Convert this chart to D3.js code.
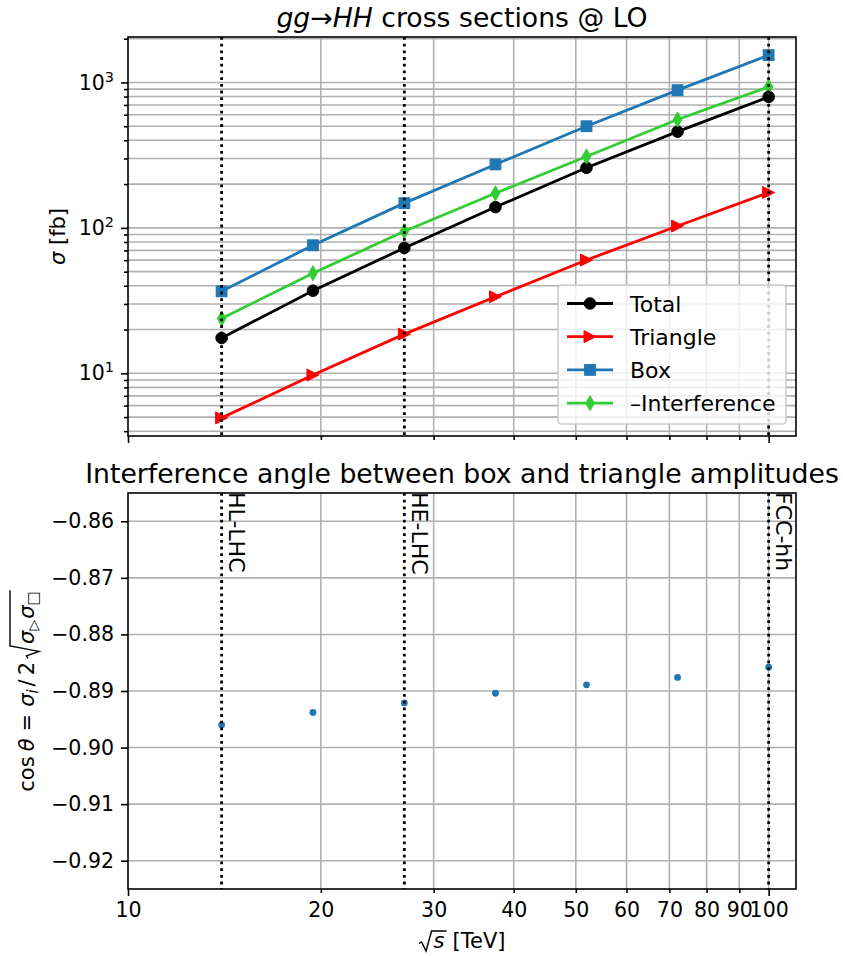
<!DOCTYPE html>
<html>
<head>
<meta charset="utf-8">
<script src="https://cdn.jsdelivr.net/npm/d3@7"></script>
<style>
  body { margin: 0; background: #fff; }
  svg { display: block; }
  text { font-family: "DejaVu Sans", sans-serif; fill: #000; }
</style>
</head>
<body>
<svg id="chart" width="843" height="956"></svg>
<script>
// Collider energies sqrt(s) in TeV
const energies = [14, 19.44, 27, 37.46, 51.96, 72.08, 100];

// LO gg -> HH cross sections in fb
const sigmaTotal        = [17.5, 37.0, 72.8, 139, 259, 459, 796];
const sigmaTriangle     = [4.94, 9.73, 18.6, 33.6, 60.1, 103, 175];
const sigmaBox          = [36.6, 76, 148, 273, 500, 885, 1541];
const sigmaInterference = [23.8, 48.8, 94.9, 173, 310, 556, 934];

// cos(theta) = sigma_i / 2 sqrt(sigma_tri sigma_box)
const cosTheta = [-0.8960, -0.8938, -0.8921, -0.8904, -0.8889, -0.8876, -0.8858];

// Reference colliders
const colliderNames    = ["HL-LHC", "HE-LHC", "FCC-hh"];
const colliderEnergies = [14, 27, 100];

// Series presentation
const seriesNames   = ["Total", "Triangle", "Box", "\u2013Interference"];
const seriesColors  = ["#000000", "#ff0000", "#1f77b4", "#32cd32"];
const seriesMarkers = ["circle", "triangleRight", "square", "thinDiamond"];
const seriesValues  = [sigmaTotal, sigmaTriangle, sigmaBox, sigmaInterference];

// Tick values
const xTicksMajor = [10, 100];
const xTicksMinor = [20, 30, 40, 50, 60, 70, 80, 90];
const sigmaTicks  = [10, 100, 1000];
const cosTicks    = [-0.92, -0.91, -0.90, -0.89, -0.88, -0.87, -0.86];
const cosDomain   = [-0.925, -0.855];

// ---------- layout ----------
const X0 = 128, X1 = 796;
const TOP = { y0: 37, y1: 436 };
const BOT = { y0: 493, y1: 889 };
const GRID = "#b0b0b0";
const FS_TICK = 20.5, FS_LABEL = 21, FS_LEG = 22, FS_TITLE = 26.7;

const svg = d3.select("#chart");

// log x with a 5% right margin in log space
const logE = energies.map(Math.log10);
const xPad = 0.05 * (d3.max(logE) - d3.min(logE));
const x = d3.scaleLog().domain([10, Math.pow(10, d3.max(logE) + xPad)]).range([X0, X1]);

// log y for cross sections with 5% margins in log space
const allSigma = [].concat(...seriesValues);
const lLo = Math.log10(d3.min(allSigma)), lHi = Math.log10(d3.max(allSigma));
const yPad = 0.05 * (lHi - lLo);
const yT = d3.scaleLog().domain([Math.pow(10, lLo - yPad), Math.pow(10, lHi + yPad)]).range([TOP.y1, TOP.y0]);

const yB = d3.scaleLinear().domain(cosDomain).range([BOT.y1, BOT.y0]);

// minor log ticks inside the y domain
const sigmaMinor = [];
for (let dec = 1; dec <= 1000; dec *= 10)
  for (let k = 1; k <= 9; k++) {
    const v = k * dec;
    if (v >= yT.domain()[0] && v <= yT.domain()[1] && !sigmaTicks.includes(v)) sigmaMinor.push(v);
  }
const xGridVals = xTicksMinor.concat([100]);

// ---------- grids ----------
const gGrid = svg.append("g").attr("stroke", GRID).attr("stroke-width", 1.6);
gGrid.selectAll("line.hT").data(sigmaTicks.concat(sigmaMinor)).join("line").attr("class", "hT")
  .attr("x1", X0).attr("x2", X1).attr("y1", d => yT(d)).attr("y2", d => yT(d));
gGrid.selectAll("line.vT").data(xGridVals).join("line").attr("class", "vT")
  .attr("x1", d => x(d)).attr("x2", d => x(d)).attr("y1", TOP.y0).attr("y2", TOP.y1);
gGrid.selectAll("line.hB").data(cosTicks).join("line").attr("class", "hB")
  .attr("x1", X0).attr("x2", X1).attr("y1", d => yB(d)).attr("y2", d => yB(d));
gGrid.selectAll("line.vB").data(xGridVals).join("line").attr("class", "vB")
  .attr("x1", d => x(d)).attr("x2", d => x(d)).attr("y1", BOT.y0).attr("y2", BOT.y1);

// ---------- markers ----------
function marker(g, type, cx, cy, color) {
  if (type === "circle") {
    g.append("circle").attr("cx", cx).attr("cy", cy).attr("r", 5.8).attr("fill", color)
      .attr("stroke", color).attr("stroke-width", 1);
  } else if (type === "triangleRight") {
    g.append("path").attr("d", `M${cx + 6},${cy} L${cx - 6},${cy - 6} L${cx - 6},${cy + 6} Z`)
      .attr("fill", color).attr("stroke", color).attr("stroke-width", 1);
  } else if (type === "square") {
    g.append("rect").attr("x", cx - 5.3).attr("y", cy - 5.3).attr("width", 10.6).attr("height", 10.6)
      .attr("fill", color).attr("stroke", color).attr("stroke-width", 1.2);
  } else if (type === "thinDiamond") {
    g.append("path").attr("d", `M${cx},${cy - 7.5} L${cx + 4.3},${cy} L${cx},${cy + 7.5} L${cx - 4.3},${cy} Z`)
      .attr("fill", color).attr("stroke", color).attr("stroke-width", 1);
  }
}

// ---------- top panel series ----------
const gData = svg.append("g");
const line = d3.line().x(d => x(d[0])).y(d => yT(d[1]));
seriesValues.forEach((vals, i) => {
  const pts = energies.map((e, j) => [e, vals[j]]);
  gData.append("path").attr("d", line(pts)).attr("fill", "none")
    .attr("stroke", seriesColors[i]).attr("stroke-width", 2.8).attr("stroke-linejoin", "round");
});
seriesValues.forEach((vals, i) => {
  energies.forEach((e, j) => marker(gData, seriesMarkers[i], x(e), yT(vals[j]), seriesColors[i]));
});

// ---------- bottom panel points ----------
svg.append("g").selectAll("circle").data(energies.map((e, j) => [e, cosTheta[j]])).join("circle")
  .attr("cx", d => x(d[0])).attr("cy", d => yB(d[1])).attr("r", 3.4).attr("fill", "#1f77b4");

// ---------- collider lines ----------
const gCol = svg.append("g").attr("stroke", "#000").attr("stroke-width", 2.8)
  .attr("stroke-dasharray", "2.8 3.9");
colliderEnergies.forEach(e => {
  gCol.append("line").attr("x1", x(e)).attr("x2", x(e)).attr("y1", TOP.y0).attr("y2", TOP.y1);
  gCol.append("line").attr("x1", x(e)).attr("x2", x(e)).attr("y1", BOT.y0).attr("y2", BOT.y1);
});
colliderEnergies.forEach((e, i) => {
  svg.append("text").attr("transform", `translate(${x(e) + 7.5},${BOT.y0 - 1}) rotate(90)`)
    .attr("font-size", FS_LEG).attr("text-anchor", "start")
    .text(colliderNames[i]);
});

// ---------- axes ----------
function styleAxis(g) {
  g.select(".domain").remove();
  g.selectAll(".tick line").attr("stroke", "#000").attr("stroke-width", 1.6);
  g.selectAll(".tick text").attr("font-size", FS_TICK).attr("font-family", "DejaVu Sans").attr("fill", "#000");
  g.attr("font-family", null).attr("font-size", null);
}

// top panel x ticks (no labels)
svg.append("g").attr("transform", `translate(0,${TOP.y1})`)
  .call(d3.axisBottom(x).tickValues(xTicksMajor).tickSize(7).tickFormat("")).call(styleAxis);
svg.append("g").attr("transform", `translate(0,${TOP.y1})`)
  .call(d3.axisBottom(x).tickValues(xTicksMinor).tickSize(4).tickFormat("")).call(styleAxis);

// bottom panel x ticks with labels
svg.append("g").attr("transform", `translate(0,${BOT.y1})`)
  .call(d3.axisBottom(x).tickValues(xTicksMajor).tickSize(7).tickPadding(6).tickFormat(d3.format("d"))).call(styleAxis);
svg.append("g").attr("transform", `translate(0,${BOT.y1})`)
  .call(d3.axisBottom(x).tickValues(xTicksMinor).tickSize(4).tickPadding(9).tickFormat(d3.format("d"))).call(styleAxis);

// top panel y ticks, labels as powers of ten
const gYT = svg.append("g").attr("transform", `translate(${X0},0)`)
  .call(d3.axisLeft(yT).tickValues(sigmaTicks).tickSize(7).tickPadding(7).tickFormat(() => "")).call(styleAxis);
gYT.selectAll(".tick text").each(function (d) {
  const t = d3.select(this);
  t.append("tspan").text("10");
  t.append("tspan").attr("font-size", 14.5).attr("dy", -8).text(Math.round(Math.log10(d)));
});
svg.append("g").attr("transform", `translate(${X0},0)`)
  .call(d3.axisLeft(yT).tickValues(sigmaMinor).tickSize(4).tickFormat("")).call(styleAxis);

// bottom panel y ticks
svg.append("g").attr("transform", `translate(${X0},0)`)
  .call(d3.axisLeft(yB).tickValues(cosTicks).tickSize(7).tickPadding(7).tickFormat(d3.format(".2f"))).call(styleAxis);

// spines
[TOP, BOT].forEach(p => {
  svg.append("rect").attr("x", X0).attr("y", p.y0).attr("width", X1 - X0).attr("height", p.y1 - p.y0)
    .attr("fill", "none").attr("stroke", "#000").attr("stroke-width", 1.6);
});

// ---------- legend ----------
const LW = 228, LH = 139;
const lx = X1 - 10 - LW, ly = TOP.y1 - 12 - LH;
const gLeg = svg.append("g");
gLeg.append("rect").attr("x", lx).attr("y", ly).attr("width", LW).attr("height", LH).attr("rx", 4)
  .attr("fill", "#fff").attr("fill-opacity", 0.8).attr("stroke", "#cccccc").attr("stroke-width", 1.6);
seriesNames.forEach((name, i) => {
  const cy = ly + 18.5 + i * 33.2;
  gLeg.append("line").attr("x1", lx + 9).attr("x2", lx + 55).attr("y1", cy).attr("y2", cy)
    .attr("stroke", seriesColors[i]).attr("stroke-width", 2.8);
  marker(gLeg, seriesMarkers[i], lx + 32, cy, seriesColors[i]);
  gLeg.append("text").attr("x", lx + 72).attr("y", cy + 8).attr("font-size", FS_LEG).text(name);
});

// ---------- inline math helper ----------
function mathRun(parent) {
  const g = parent.append("g");
  let cx = 0;
  const api = {
    g,
    add(str, opt = {}) {
      const t = g.append("text").attr("x", cx).attr("y", opt.dy || 0)
        .attr("font-size", opt.size || FS_LABEL).text(str);
      if (opt.italic) t.attr("font-style", "italic");
      cx += t.node().getComputedTextLength();
      return api;
    },
    space(w) { cx += w; return api; },
    radical(top, bottom, body) {
      const x0 = cx;
      cx += 14;
      body();
      const x1 = cx + 1;
      const mid = bottom - (bottom - top) * 0.38;
      g.append("path")
        .attr("d", `M${x0 + 0.5},${mid} L${x0 + 3},${mid - 1.5} L${x0 + 7.5},${bottom} L${x0 + 13},${top} L${x1},${top}`)
        .attr("fill", "none").attr("stroke", "#000").attr("stroke-width", 1.4).attr("stroke-linejoin", "miter");
      cx += 1;
      return api;
    },
    width() { return cx; }
  };
  return api;
}

// ---------- titles ----------
const t1 = svg.append("text").attr("x", (X0 + X1) / 2).attr("y", TOP.y0 - 10)
  .attr("text-anchor", "middle").attr("font-size", FS_TITLE);
t1.append("tspan").attr("font-style", "italic").text("gg");
t1.append("tspan").text("\u2192");
t1.append("tspan").attr("font-style", "italic").text("HH");
t1.append("tspan").text(" cross sections @ LO");

svg.append("text").attr("x", (X0 + X1) / 2).attr("y", BOT.y0 - 10)
  .attr("text-anchor", "middle").attr("font-size", FS_TITLE)
  .text("Interference angle between box and triangle amplitudes");

// ---------- axis labels ----------
const yl1 = svg.append("text").attr("transform", `translate(65,${(TOP.y0 + TOP.y1) / 2}) rotate(-90)`)
  .attr("text-anchor", "middle").attr("font-size", FS_LABEL);
yl1.append("tspan").attr("font-style", "italic").text("\u03c3");
yl1.append("tspan").text(" [fb]");

const ylG = svg.append("g").attr("transform", `translate(34,${(BOT.y0 + BOT.y1) / 2}) rotate(-90)`);
const yl2 = mathRun(ylG);
yl2.add("cos").space(5).add("\u03b8", { italic: true }).space(7).add("=").space(7)
  .add("\u03c3", { italic: true }).add("i", { italic: true, size: 15, dy: 4 }).space(3)
  .add("/").space(4).add("2").space(3)
  .radical(-24, 5, () => {
    yl2.space(1).add("\u03c3", { italic: true }).add("\u25b7", { size: 14, dy: 4 }).space(1)
       .add("\u03c3", { italic: true }).add("\u25a1", { size: 15, dy: 4 });
  });
yl2.g.attr("transform", `translate(${-yl2.width() / 2},0)`);

const xlG = svg.append("g").attr("transform", `translate(0,948)`);
const xl = mathRun(xlG);
xl.radical(-17, 3, () => { xl.space(1).add("s", { italic: true }).space(1); })
  .space(6).add("[TeV]");
xl.g.attr("transform", `translate(${(X0 + X1) / 2 - xl.width() / 2},0)`);
</script>
</body>
</html>
